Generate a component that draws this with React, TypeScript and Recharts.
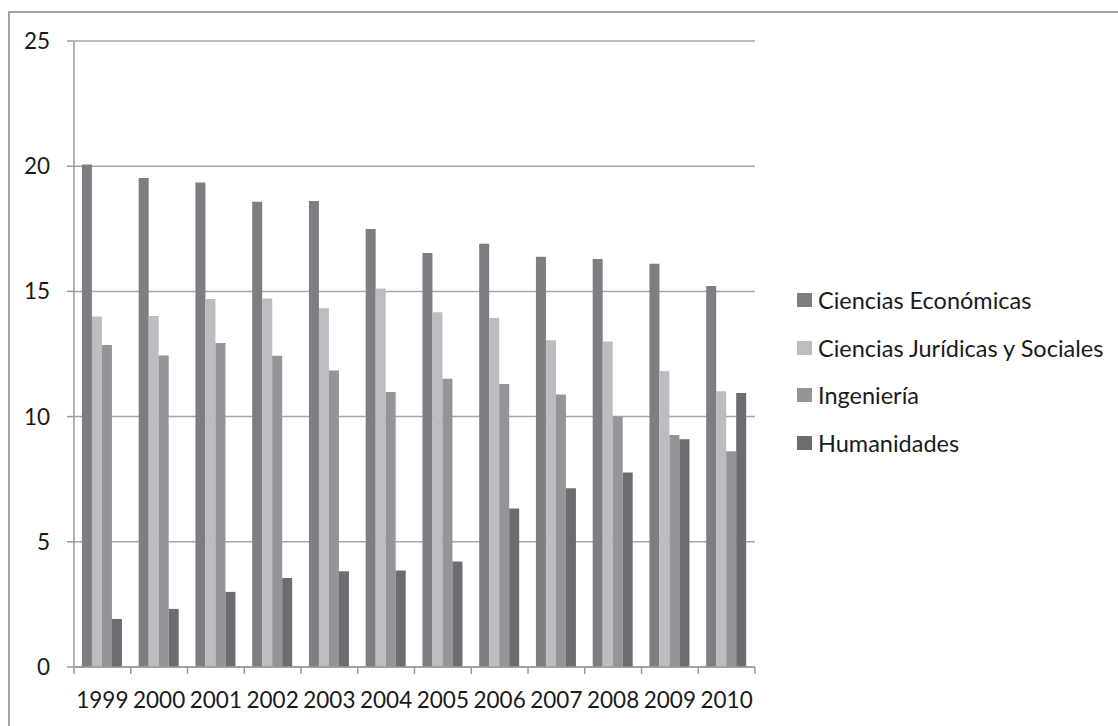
import React from "react";
import { BarChart, Bar, XAxis, YAxis, CartesianGrid, Legend } from "recharts";

const years = ["1999", "2000", "2001", "2002", "2003", "2004", "2005", "2006", "2007", "2008", "2009", "2010"];
const economicas = [20.07, 19.53, 19.35, 18.58, 18.61, 17.49, 16.53, 16.9, 16.38, 16.29, 16.1, 15.22];
const juridicas = [14.0, 14.02, 14.7, 14.72, 14.33, 15.12, 14.17, 13.94, 13.05, 13.0, 11.82, 11.01];
const ingenieria = [12.86, 12.44, 12.94, 12.43, 11.84, 10.98, 11.51, 11.3, 10.88, 9.99, 9.27, 8.62];
const humanidades = [1.92, 2.32, 3.0, 3.55, 3.82, 3.85, 4.21, 6.33, 7.14, 7.77, 9.1, 10.94];
const yTicks = [0, 5, 10, 15, 20, 25];
const seriesNames = ["Ciencias Económicas", "Ciencias Jurídicas y Sociales", "Ingeniería", "Humanidades"];

const data = years.map((y, i) => ({
  year: y,
  ce: economicas[i],
  cjs: juridicas[i],
  ing: ingenieria[i],
  hum: humanidades[i],
}));

const W = 1118;
const H = 726;
const LEGEND_W = 320;
const MARGIN = { top: 41, right: 363 - LEGEND_W, bottom: 9, left: 14 };
const Y_AXIS_W = 60;
const X_AXIS_H = 50;
const TICK = 7;
const X_TICK_MARGIN = 18;
const PLOT_W = W - 363 - MARGIN.left - Y_AXIS_W;
const FONT = "Lato, 'Open Sans', sans-serif";
const AXIS_COLOR = "#9a9a9a";
const TEXT_COLOR = "#1a1a1a";

const XTick = (props: any) => {
  const { x, y, payload, index } = props;
  const bw = PLOT_W / years.length;
  const axisY = y - TICK - X_TICK_MARGIN;
  return (
    <g>
      <line x1={x - bw / 2} x2={x - bw / 2} y1={axisY} y2={axisY + TICK} stroke={AXIS_COLOR} strokeWidth={1.5} />
      {index === years.length - 1 && (
        <line x1={x + bw / 2} x2={x + bw / 2} y1={axisY} y2={axisY + TICK} stroke={AXIS_COLOR} strokeWidth={1.5} />
      )}
      <text x={x} y={y} dy="0.71em" textAnchor="middle" fill={TEXT_COLOR} fontSize={22.5} fontFamily={FONT}>
        {payload.value}
      </text>
    </g>
  );
};

const LegendContent = (props: any) => {
  const items = [...(props.payload || [])].sort(
    (a: any, b: any) => seriesNames.indexOf(a.value) - seriesNames.indexOf(b.value)
  );
  return (
    <div style={{ fontFamily: FONT }}>
      {items.map((p: any) => (
        <div key={p.value} style={{ display: "flex", alignItems: "center", height: 47.7 }}>
          <div style={{ width: 15, height: 14, background: p.color, marginRight: 6 }} />
          <span style={{ fontSize: 23.5, color: TEXT_COLOR, whiteSpace: "nowrap" }}>{p.value}</span>
        </div>
      ))}
    </div>
  );
};

export default function App() {
  return (
    <div style={{ position: "fixed", left: 0, top: 0, width: W, height: H, background: "#fff" }}>
      <div
        style={{
          position: "absolute",
          left: 8,
          top: 11,
          width: W,
          height: H,
          borderTop: "2px solid #a6a6a6",
          borderLeft: "2px solid #a6a6a6",
          boxSizing: "border-box",
        }}
      />
      <div style={{ position: "absolute", left: 0, top: 0 }}>
        <BarChart width={W} height={H} data={data} margin={MARGIN} barGap={0} barCategoryGap="14%">
          <CartesianGrid vertical={false} stroke="#a6a6a6" strokeWidth={1.5} />
          <XAxis
            dataKey="year"
            height={X_AXIS_H}
            tickLine={false}
            tickSize={TICK}
            tickMargin={X_TICK_MARGIN}
            axisLine={{ stroke: AXIS_COLOR, strokeWidth: 1.5 }}
            tick={<XTick />}
            interval={0}
          />
          <YAxis
            width={Y_AXIS_W}
            domain={[0, 25]}
            ticks={yTicks}
            interval={0}
            tickSize={TICK}
            tickMargin={17}
            tickLine={{ stroke: AXIS_COLOR, strokeWidth: 1.5 }}
            axisLine={{ stroke: AXIS_COLOR, strokeWidth: 1.5 }}
            tick={{ fill: TEXT_COLOR, fontSize: 22.5, fontFamily: FONT }}
          />
          <Legend
            layout="vertical"
            align="right"
            verticalAlign="top"
            content={<LegendContent />}
            wrapperStyle={{ position: "absolute", left: 797, top: 276, width: LEGEND_W }}
          />
          <Bar dataKey="ce" name={seriesNames[0]} fill="#7e7e82" isAnimationActive={false} />
          <Bar dataKey="cjs" name={seriesNames[1]} fill="#bdbdc1" isAnimationActive={false} />
          <Bar dataKey="ing" name={seriesNames[2]} fill="#959599" isAnimationActive={false} />
          <Bar dataKey="hum" name={seriesNames[3]} fill="#6d6d71" isAnimationActive={false} />
        </BarChart>
      </div>
    </div>
  );
}
